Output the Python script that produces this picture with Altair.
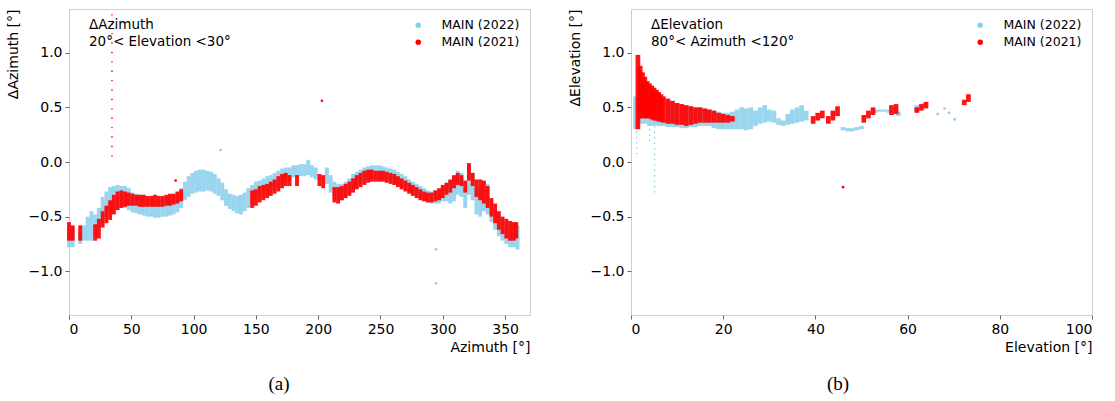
import altair as alt
import pandas as pd

SERIES = ["MAIN (2022)", "MAIN (2021)"]
COLORS = ["#87CEEB", "#FF0000"]

Y_TICKS = [-1.0, -0.5, 0.0, 0.5, 1.0]
LEFT_X_TICKS = [0, 50, 100, 150, 200, 250, 300, 350]
RIGHT_X_TICKS = [0, 20, 40, 60, 80, 100]

# (azimuth, lower dAz, upper dAz)
LEFT_2022 = [
    (0, -0.78, -0.62), (3, -0.78, -0.60), (9, -0.75, -0.65), (12, -0.72, -0.58), (15, -0.72, -0.50),
    (18, -0.72, -0.45), (21, -0.68, -0.48), (24, -0.62, -0.42), (27, -0.55, -0.32), (30, -0.50, -0.27),
    (33, -0.46, -0.23), (36, -0.44, -0.22), (39, -0.42, -0.21), (42, -0.42, -0.22), (45, -0.42, -0.22),
    (48, -0.44, -0.24), (51, -0.46, -0.28), (54, -0.47, -0.29), (57, -0.48, -0.30), (60, -0.49, -0.31),
    (63, -0.50, -0.33), (66, -0.50, -0.34), (69, -0.51, -0.34), (72, -0.51, -0.34), (75, -0.50, -0.33),
    (78, -0.50, -0.32), (81, -0.49, -0.31), (84, -0.48, -0.30), (87, -0.46, -0.28), (90, -0.42, -0.24),
    (93, -0.35, -0.18), (96, -0.32, -0.13), (99, -0.29, -0.10), (102, -0.28, -0.08), (105, -0.27, -0.07),
    (108, -0.27, -0.07), (111, -0.26, -0.08), (114, -0.27, -0.09), (117, -0.29, -0.11), (120, -0.31, -0.15),
    (123, -0.35, -0.19), (126, -0.40, -0.25), (129, -0.43, -0.29), (132, -0.45, -0.30), (135, -0.47, -0.31),
    (138, -0.48, -0.30), (141, -0.45, -0.28), (144, -0.42, -0.24), (147, -0.38, -0.21), (150, -0.35, -0.18),
    (153, -0.33, -0.17), (156, -0.30, -0.15), (159, -0.28, -0.13), (162, -0.26, -0.12), (165, -0.24, -0.10),
    (168, -0.22, -0.08), (171, -0.20, -0.06), (174, -0.18, -0.05), (177, -0.17, -0.05), (180, -0.14, -0.03),
    (183, -0.13, -0.03), (186, -0.13, -0.02), (189, -0.13, -0.02), (192, -0.12, 0.02), (195, -0.14, -0.03),
    (198, -0.16, -0.05), (207, -0.20, -0.05), (210, -0.28, -0.12), (213, -0.34, -0.18), (216, -0.35, -0.20),
    (219, -0.35, -0.20), (222, -0.33, -0.18), (225, -0.30, -0.15), (228, -0.26, -0.11), (231, -0.23, -0.09),
    (234, -0.20, -0.07), (237, -0.18, -0.05), (240, -0.17, -0.04), (243, -0.16, -0.03), (246, -0.16, -0.03),
    (249, -0.16, -0.03), (252, -0.16, -0.04), (255, -0.17, -0.05), (258, -0.18, -0.06), (261, -0.19, -0.07),
    (264, -0.21, -0.09), (267, -0.23, -0.11), (270, -0.25, -0.13), (273, -0.27, -0.16), (276, -0.29, -0.18),
    (279, -0.31, -0.20), (282, -0.33, -0.22), (285, -0.35, -0.24), (288, -0.37, -0.26), (291, -0.38, -0.27),
    (294, -0.38, -0.26), (297, -0.38, -0.25), (300, -0.36, -0.22), (303, -0.36, -0.19), (306, -0.38, -0.17),
    (309, -0.36, -0.13), (312, -0.30, -0.08), (315, -0.32, -0.10), (318, -0.42, -0.25), (321, -0.30, -0.02),
    (324, -0.35, -0.10), (327, -0.48, -0.25), (330, -0.50, -0.22), (333, -0.45, -0.18), (336, -0.48, -0.20),
    (339, -0.55, -0.34), (342, -0.62, -0.42), (345, -0.68, -0.48), (348, -0.72, -0.52), (351, -0.75, -0.55),
    (354, -0.78, -0.56), (357, -0.78, -0.56), (360, -0.80, -0.58),
]

LEFT_2021 = [
    (0, -0.72, -0.55), (3, -0.72, -0.58), (9, -0.72, -0.58), (21, -0.72, -0.57), (24, -0.70, -0.52),
    (27, -0.60, -0.45), (30, -0.56, -0.40), (33, -0.53, -0.35), (36, -0.48, -0.30), (39, -0.44, -0.27),
    (42, -0.42, -0.26), (45, -0.41, -0.27), (48, -0.40, -0.28), (51, -0.40, -0.29), (54, -0.40, -0.30),
    (57, -0.41, -0.30), (60, -0.41, -0.30), (63, -0.41, -0.31), (66, -0.41, -0.31), (69, -0.41, -0.30),
    (72, -0.41, -0.31), (75, -0.41, -0.31), (78, -0.40, -0.30), (81, -0.40, -0.29), (84, -0.39, -0.29),
    (87, -0.38, -0.27), (90, -0.36, -0.25),
    (147, -0.42, -0.26), (150, -0.40, -0.25), (153, -0.37, -0.22), (156, -0.35, -0.21), (159, -0.33, -0.20),
    (162, -0.31, -0.18), (165, -0.29, -0.16), (168, -0.27, -0.13), (171, -0.24, -0.11), (174, -0.22, -0.10),
    (177, -0.22, -0.12), (183, -0.22, -0.12),
    (201, -0.22, -0.11), (204, -0.24, -0.12),
    (213, -0.37, -0.23), (216, -0.38, -0.23), (219, -0.35, -0.22), (222, -0.33, -0.20), (225, -0.31, -0.18),
    (228, -0.28, -0.15), (231, -0.25, -0.12), (234, -0.23, -0.10), (237, -0.21, -0.08), (240, -0.19, -0.07),
    (243, -0.18, -0.07), (246, -0.18, -0.08), (249, -0.18, -0.08), (252, -0.18, -0.08), (255, -0.19, -0.09),
    (258, -0.20, -0.10), (261, -0.21, -0.11), (264, -0.23, -0.13), (267, -0.25, -0.15), (270, -0.27, -0.17),
    (273, -0.29, -0.19), (276, -0.31, -0.21), (279, -0.33, -0.23), (282, -0.35, -0.25), (285, -0.36, -0.27),
    (288, -0.37, -0.28), (291, -0.37, -0.28), (294, -0.36, -0.26), (297, -0.35, -0.24), (300, -0.33, -0.21),
    (303, -0.30, -0.19), (306, -0.28, -0.16), (309, -0.24, -0.12), (312, -0.21, -0.10), (315, -0.22, -0.12),
    (318, -0.28, -0.17), (321, -0.17, -0.01), (324, -0.22, -0.10), (327, -0.32, -0.16), (330, -0.35, -0.16),
    (333, -0.38, -0.17), (336, -0.42, -0.22), (339, -0.50, -0.33), (342, -0.56, -0.38), (345, -0.62, -0.45),
    (348, -0.66, -0.50), (351, -0.70, -0.52), (354, -0.72, -0.54), (357, -0.72, -0.55), (359, -0.70, -0.55),
]

LEFT_2021_COLUMNS = [(34.5, 0.05, 1.38)]
LEFT_2022_COLUMNS = []

# (elevation, lower dEl, upper dEl)
RIGHT_2022 = [
    (1.0, 0.30, 0.60), (2.0, 0.35, 0.75), (3.0, 0.35, 0.70), (4.0, 0.33, 0.66), (5.0, 0.33, 0.64),
    (6.0, 0.33, 0.62), (7, 0.33, 0.60), (8, 0.32, 0.57), (9, 0.32, 0.55), (10, 0.32, 0.54),
    (11, 0.31, 0.53), (12, 0.31, 0.52), (13, 0.32, 0.51), (14, 0.32, 0.50), (15, 0.33, 0.50),
    (16, 0.33, 0.49), (17, 0.33, 0.48), (18, 0.31, 0.47), (19, 0.30, 0.46), (20, 0.30, 0.45),
    (21, 0.30, 0.45), (22, 0.30, 0.46), (23, 0.30, 0.48), (24, 0.30, 0.50), (25, 0.29, 0.49),
    (26, 0.30, 0.50), (27, 0.33, 0.47), (28, 0.35, 0.50), (29, 0.36, 0.52), (30, 0.37, 0.48),
    (31, 0.36, 0.47), (32, 0.34, 0.40), (33, 0.33, 0.38), (34, 0.34, 0.44), (35, 0.35, 0.48),
    (36, 0.36, 0.50), (37, 0.37, 0.52), (38, 0.38, 0.47),
    (46, 0.29, 0.32), (47, 0.28, 0.31), (48, 0.28, 0.31), (49, 0.29, 0.32), (50, 0.30, 0.33),
    (53, 0.45, 0.48), (54, 0.46, 0.48), (55, 0.46, 0.48), (56, 0.45, 0.48), (58, 0.42, 0.46),
    (62, 0.46, 0.52), (63.5, 0.50, 0.54),
]

RIGHT_2021 = [
    (1.5, 0.30, 0.98), (2.0, 0.40, 0.88), (2.5, 0.40, 0.82), (3.0, 0.40, 0.78), (3.5, 0.40, 0.74),
    (4.0, 0.40, 0.72), (4.5, 0.39, 0.70), (5.0, 0.38, 0.68), (5.5, 0.38, 0.66), (6.0, 0.37, 0.64),
    (6.5, 0.37, 0.62), (7.0, 0.36, 0.60), (8.0, 0.35, 0.58), (9.0, 0.35, 0.56), (10, 0.34, 0.54),
    (11, 0.34, 0.53), (12, 0.33, 0.52), (13, 0.34, 0.51), (14, 0.35, 0.50), (15, 0.36, 0.50),
    (16, 0.36, 0.49), (17, 0.36, 0.48), (18, 0.36, 0.47), (19, 0.36, 0.45), (20, 0.36, 0.44),
    (21, 0.36, 0.43), (22, 0.37, 0.42),
    (39.5, 0.35, 0.42), (40.5, 0.38, 0.45), (41.5, 0.40, 0.47),
    (42.8, 0.35, 0.42), (43.8, 0.38, 0.47), (44.8, 0.42, 0.51),
    (50.5, 0.36, 0.43), (51.5, 0.40, 0.47), (52.5, 0.43, 0.50),
    (56.5, 0.43, 0.52), (57.5, 0.44, 0.53),
    (62.0, 0.45, 0.50), (63.0, 0.47, 0.53), (64.0, 0.49, 0.55),
    (72.3, 0.52, 0.57), (73.2, 0.55, 0.62),
]

RIGHT_2022_COLUMNS = [(1.2, 0.07, 0.55), (4.05, 0.19, 0.42), (5.1, -0.28, 0.42)]
RIGHT_2021_COLUMNS = []

# isolated points (series, x, y)
LEFT_POINTS = [
    ("MAIN (2021)", 203.0, 0.56), ("MAIN (2021)", 85.6, -0.17),
    ("MAIN (2022)", 294.5, -1.11), ("MAIN (2022)", 294.5, -0.80), ("MAIN (2022)", 121.7, 0.11),
]
RIGHT_POINTS = [
    ("MAIN (2021)", 46.0, -0.23),
    ("MAIN (2022)", 66.5, 0.44), ("MAIN (2022)", 68.0, 0.49), ("MAIN (2022)", 69.0, 0.45),
    ("MAIN (2022)", 70.2, 0.39),
]

LEFT_NOTE = ["ΔAzimuth", "20°< Elevation <30°"]
RIGHT_NOTE = ["ΔElevation", "80°< Azimuth <120°"]

W, H = 461, 306
FONT = "DejaVu Sans"


def bands(rows):
    return pd.DataFrame(rows, columns=["x", "lo", "hi"])


def panel(b22, c22, b21, c21, pts, xdomain, xticks, xtitle, ytitle, note, caption, bw, cap_x):
    xs = alt.Scale(domain=xdomain, nice=False, zero=False)
    ys = alt.Scale(domain=[-1.4, 1.4], nice=False, zero=False)
    xax = alt.Axis(values=xticks, title=xtitle, format="d", titleAnchor="end", titlePadding=4)
    yax = alt.Axis(values=Y_TICKS, title=ytitle, format=".1f", titleAnchor="end", titlePadding=8)

    def band_layer(rows, color, width, op, dash=None):
        kw = dict(color=color, strokeWidth=width, opacity=op)
        if dash:
            kw["strokeDash"] = dash
        return alt.Chart(bands(rows)).mark_rule(**kw).encode(
            x=alt.X("x:Q", scale=xs, axis=xax),
            y=alt.Y("lo:Q", scale=ys, axis=yax),
            y2="hi:Q",
        )

    layers = [band_layer(b22, COLORS[0], bw, 0.85)]
    if c22:
        layers.append(band_layer(c22, COLORS[0], 1.4, 1.0, [1.4, 4]))
    layers.append(band_layer(b21, COLORS[1], bw, 0.92))
    if c21:
        layers.append(band_layer(c21, COLORS[1], 1.4, 1.0, [1.4, 8]))

    pdf = pd.DataFrame(pts, columns=["series", "x", "y"])
    layers.append(
        alt.Chart(pdf).mark_circle(size=7, opacity=1).encode(
            x=alt.X("x:Q", scale=xs, axis=xax),
            y=alt.Y("y:Q", scale=ys, axis=yax),
            color=alt.Color(
                "series:N",
                scale=alt.Scale(domain=SERIES, range=COLORS),
                legend=alt.Legend(
                    orient="top-right", title=None, offset=10, padding=0,
                    symbolType="circle", symbolSize=30, symbolStrokeWidth=0,
                    labelFont=FONT, labelFontSize=12.5, labelColor="#000",
                    labelOffset=17, rowPadding=4,
                ),
            ),
        )
    )
    for i, line in enumerate(note):
        layers.append(
            alt.Chart(pd.DataFrame({"t": [line]})).mark_text(
                align="left", baseline="alphabetic", font=FONT, fontSize=13.5, color="#000"
            ).encode(x=alt.value(20), y=alt.value(20 + 17 * i), text="t:N")
        )
    layers.append(
        alt.Chart(pd.DataFrame({"t": [caption]})).mark_text(
            align="center", baseline="middle", font="Liberation Serif", fontSize=19, color="#000"
        ).encode(x=alt.value(cap_x), y=alt.value(375), text="t:N")
    )
    return alt.layer(*layers).properties(width=W, height=H)


left = panel(LEFT_2022, LEFT_2022_COLUMNS, LEFT_2021, LEFT_2021_COLUMNS, LEFT_POINTS,
             [0, 370], LEFT_X_TICKS, "Azimuth [°]", "ΔAzimuth [°]", LEFT_NOTE, "(a)", 3.9, 210)
right = panel(RIGHT_2022, RIGHT_2022_COLUMNS, RIGHT_2021, RIGHT_2021_COLUMNS, RIGHT_POINTS,
              [0, 100], RIGHT_X_TICKS, "Elevation [°]", "ΔElevation [°]", RIGHT_NOTE, "(b)", 4.7, 207)

chart = alt.hconcat(left, right, spacing=36).resolve_scale(
    x="independent", y="independent", color="independent"
).resolve_legend(color="independent").properties(
    padding={"left": 5, "top": 8, "right": 5, "bottom": 0}
).configure_view(
    stroke="#cfcfcf", strokeWidth=1
).configure_axis(
    domain=False, grid=False, tickColor="#666", tickSize=4, tickWidth=1,
    labelFont=FONT, labelFontSize=14, labelColor="#000", labelPadding=3,
    titleFont=FONT, titleFontSize=14, titleColor="#000", titleFontWeight="normal",
)

chart.save("out.html", embed_options={"renderer": "svg", "actions": False})
